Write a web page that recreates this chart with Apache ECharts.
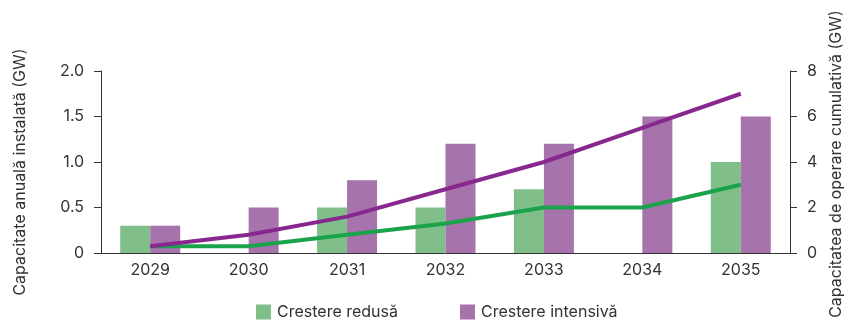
<!DOCTYPE html>
<html>
<head>
<meta charset="utf-8">
<script src="https://cdn.jsdelivr.net/npm/echarts@6/dist/echarts.min.js"></script>
<style>
  html, body { margin: 0; padding: 0; background: #ffffff; }
  #chart { width: 848px; height: 320px; }
</style>
</head>
<body>
<div id="chart"></div>
<script>
// Years on the category axis
const years = ['2029', '2030', '2031', '2032', '2033', '2034', '2035'];

// Annual installed capacity (GW), left axis
const annualLow = [0.3, 0, 0.5, 0.5, 0.7, 0, 1.0];
const annualHigh = [0.3, 0.5, 0.8, 1.2, 1.2, 1.5, 1.5];

// Cumulative operating capacity (GW), right axis
const cumulativeLow = [0.3, 0.3, 0.8, 1.3, 2.0, 2.0, 3.0];
const cumulativeHigh = [0.3, 0.8, 1.6, 2.8, 4.0, 5.5, 7.0];

// Series / axis texts
const seriesNames = ['Crestere redusă', 'Crestere intensivă'];
const leftAxisName = 'Capacitate anuală instalată (GW)';
const rightAxisName = 'Capacitatea de operare cumulativă (GW)';

const FONT = 'Inter, "Liberation Sans", Arial, sans-serif';
const TEXT = '#333333';
const AXIS = '#333333';

const chart = echarts.init(document.getElementById('chart'), null, { renderer: 'canvas' });

const valueAxisBase = {
  type: 'value',
  min: 0,
  splitLine: { show: false },
  axisLine: { show: true, lineStyle: { color: AXIS, width: 1 } },
  axisTick: { show: true, length: 7, lineStyle: { color: AXIS, width: 1 } },
  axisLabel: { color: TEXT, fontFamily: FONT, fontSize: 16, margin: 17 }
};

chart.setOption({
  animation: false,
  backgroundColor: '#ffffff',
  textStyle: { fontFamily: FONT },
  grid: { left: 101, right: 58, top: 71, bottom: 67, containLabel: false },
  legend: {
    data: seriesNames,
    left: 256,
    top: 304,
    padding: 0,
    itemWidth: 15,
    itemHeight: 15,
    itemGap: 62,
    icon: 'rect',
    textStyle: { color: TEXT, fontFamily: FONT, fontSize: 16, lineHeight: 15, padding: [0, 0, 0, 1] }
  },
  xAxis: {
    type: 'category',
    data: years,
    boundaryGap: true,
    axisLine: { show: true, lineStyle: { color: AXIS, width: 1 } },
    axisTick: { show: false },
    axisLabel: { color: TEXT, fontFamily: FONT, fontSize: 16, margin: 9 }
  },
  yAxis: [
    Object.assign({}, valueAxisBase, {
      position: 'left',
      max: 2,
      interval: 0.5,
      axisLabel: Object.assign({}, valueAxisBase.axisLabel, {
        formatter: v => (v === 0 ? '0' : v.toFixed(1))
      })
    }),
    Object.assign({}, valueAxisBase, {
      position: 'right',
      max: 8,
      interval: 2
    })
  ],
  graphic: [
    {
      type: 'text',
      x: 20,
      y: 172,
      rotation: Math.PI / 2,
      style: {
        text: leftAxisName,
        fill: TEXT,
        font: '16px ' + FONT,
        align: 'center',
        verticalAlign: 'middle'
      }
    },
    {
      type: 'text',
      x: 836,
      y: 164,
      rotation: Math.PI / 2,
      style: {
        text: rightAxisName,
        fill: TEXT,
        font: '16px ' + FONT,
        align: 'center',
        verticalAlign: 'middle'
      }
    }
  ],
  series: [
    {
      name: seriesNames[0],
      type: 'bar',
      yAxisIndex: 0,
      data: annualLow,
      barWidth: 30,
      barGap: '0%',
      itemStyle: { color: '#80bf8a' },
      z: 2
    },
    {
      name: seriesNames[1],
      type: 'bar',
      yAxisIndex: 0,
      data: annualHigh,
      barWidth: 30,
      barGap: '0%',
      itemStyle: { color: '#a673ac' },
      z: 2
    },
    {
      name: 'Cumulativ ' + seriesNames[0],
      type: 'line',
      yAxisIndex: 1,
      data: cumulativeLow,
      symbol: 'none',
      lineStyle: { color: '#1ba34b', width: 4, cap: 'butt' },
      itemStyle: { color: '#1ba34b' },
      z: 5
    },
    {
      name: 'Cumulativ ' + seriesNames[1],
      type: 'line',
      yAxisIndex: 1,
      data: cumulativeHigh,
      symbol: 'none',
      lineStyle: { color: '#88288f', width: 4, cap: 'butt' },
      itemStyle: { color: '#88288f' },
      z: 6
    }
  ]
});
</script>
</body>
</html>
